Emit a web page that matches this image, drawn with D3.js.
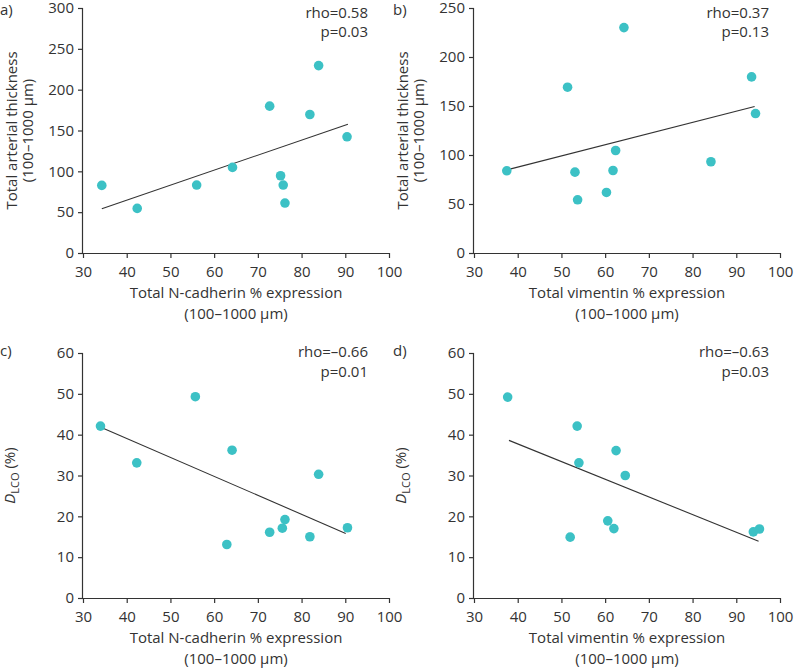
<!DOCTYPE html>
<html><head><meta charset="utf-8">
<script src="https://cdn.jsdelivr.net/npm/d3@7"></script>
<style>
body{margin:0;background:#fff;}
svg text{font-family:"Open Sans","Noto Sans",sans-serif;fill:#333;}
</style></head>
<body><svg id="c" width="799" height="671"></svg>
<script>
// Panel a: N-cadherin vs arterial thickness
const aX = [34.3, 42.4, 56.0, 64.2, 72.7, 75.2, 75.8, 76.2, 81.9, 83.9, 90.4];
const aY = [82.8, 54.6, 83.2, 104.8, 179.8, 94.6, 83.2, 61.2, 169.6, 229.5, 142.3];
const aFit = [[34.3, 54.2], [90.6, 157.7]];
// Panel b: vimentin vs arterial thickness
const bX = [37.5, 51.4, 53.1, 53.7, 60.3, 61.8, 62.4, 64.3, 84.2, 93.5, 94.4];
const bY = [83.9, 169.2, 82.5, 54.3, 61.8, 84.2, 104.6, 230, 93.1, 179.7, 142.3];
const bFit = [[38.2, 85.6], [94.2, 149.5]];
// Panel c: N-cadherin vs DLCO
const cX = [34.0, 42.3, 55.7, 64.1, 62.9, 72.7, 75.6, 76.2, 81.9, 83.9, 90.5];
const cY = [42.1, 33.1, 49.3, 36.2, 13.1, 16.1, 17.1, 19.2, 15.0, 30.3, 17.2];
const cFit = [[34.6, 41.6], [90.1, 15.8]];
// Panel d: vimentin vs DLCO
const dX = [37.7, 53.6, 54.0, 62.5, 64.6, 60.6, 62.0, 52.0, 93.9, 95.3];
const dY = [49.2, 42.1, 33.1, 36.1, 30.0, 18.9, 17.0, 14.9, 16.2, 16.9];
const dFit = [[38.0, 38.6], [95.1, 13.9]];

const xTicks = [30, 40, 50, 60, 70, 80, 90, 100];
const yTicksA = [0, 50, 100, 150, 200, 250, 300];
const yTicksB = [0, 50, 100, 150, 200, 250];
const yTicksD = [0, 10, 20, 30, 40, 50, 60];

const panels = [
  {lab:"a)", xs:aX, ys:aY, fit:aFit, ymax:300, yt:yTicksA, x0:83, x1:389, y0:253, y1:8,
   xt:["Total N-cadherin % expression","(100–1000 µm)"], yt2:["Total arterial thickness","(100–1000 µm)"],
   st:["rho=0.58","p=0.03"], sx:368, sy:17.5, lx:0, ly:15},
  {lab:"b)", xs:bX, ys:bY, fit:bFit, ymax:250, yt:yTicksB, x0:474, x1:780, y0:253, y1:8,
   xt:["Total vimentin % expression","(100–1000 µm)"], yt2:["Total arterial thickness","(100–1000 µm)"],
   st:["rho=0.37","p=0.13"], sx:769, sy:17.5, lx:393, ly:15},
  {lab:"c)", xs:cX, ys:cY, fit:cFit, ymax:60, yt:yTicksD, x0:83, x1:389, y0:598, y1:353,
   xt:["Total N-cadherin % expression","(100–1000 µm)"], yt2:null,
   st:["rho=–0.66","p=0.01"], sx:368, sy:357, lx:0, ly:356},
  {lab:"d)", xs:dX, ys:dY, fit:dFit, ymax:60, yt:yTicksD, x0:474, x1:780, y0:598, y1:353,
   xt:["Total vimentin % expression","(100–1000 µm)"], yt2:null,
   st:["rho=–0.63","p=0.03"], sx:769, sy:357, lx:393, ly:356}
];

const svg = d3.select("#c");
const col = "#3cc1c5";
const FS = 15;

panels.forEach(p => {
  const x = d3.scaleLinear().domain([30,100]).range([p.x0,p.x1]);
  const y = d3.scaleLinear().domain([0,p.ymax]).range([p.y0,p.y1]);
  const g = svg.append("g");

  const xa = g.append("g").attr("transform",`translate(0,${p.y0})`)
    .call(d3.axisBottom(x).tickValues(xTicks).tickSize(5).tickPadding(8));
  const ya = g.append("g").attr("transform",`translate(${p.x0},0)`)
    .call(d3.axisLeft(y).tickValues(p.yt).tickSize(5).tickPadding(4));
  [xa,ya].forEach(a=>{
    a.selectAll("path,line").attr("stroke","#333").attr("stroke-width",1.2);
    a.selectAll("text").attr("font-size",FS).attr("fill","#333").style("font-family","'Open Sans','Noto Sans',sans-serif");
    a.select(".domain").attr("d", a===xa ? `M${p.x0},0.5H${p.x1}` : `M-0.5,${p.y0}V${p.y1}`);
  });

  // fit line
  g.append("line")
    .attr("x1",x(p.fit[0][0])).attr("y1",y(p.fit[0][1]))
    .attr("x2",x(p.fit[1][0])).attr("y2",y(p.fit[1][1]))
    .attr("stroke","#333").attr("stroke-width",1.1);

  g.selectAll("circle").data(p.xs.map((v,i)=>[v,p.ys[i]])).join("circle")
    .attr("cx",d=>x(d[0])).attr("cy",d=>y(d[1])).attr("r",4.8).attr("fill",col);

  // x title
  const cx = (p.x0+p.x1)/2;
  g.append("text").attr("x",cx).attr("y",p.y0+45).attr("text-anchor","middle").attr("font-size",FS).text(p.xt[0]);
  g.append("text").attr("x",cx).attr("y",p.y0+66).attr("text-anchor","middle").attr("font-size",FS).text(p.xt[1]);

  // y title
  const cy = (p.y0+p.y1)/2;
  if (p.yt2) {
    g.append("text").attr("transform",`translate(${p.x0-66},${cy}) rotate(-90)`).attr("text-anchor","middle").attr("font-size",FS).text(p.yt2[0]);
    g.append("text").attr("transform",`translate(${p.x0-50},${cy}) rotate(-90)`).attr("text-anchor","middle").attr("font-size",FS).text(p.yt2[1]);
  } else {
    const t = g.append("text").attr("transform",`translate(${p.x0-68},${cy}) rotate(-90)`).attr("text-anchor","middle").attr("font-size",FS);
    t.append("tspan").attr("font-style","italic").text("D");
    t.append("tspan").attr("font-size",11).attr("dy",4).text("LCO");
    t.append("tspan").attr("dy",-4).text(" (%)");
  }

  // stats
  g.append("text").attr("x",p.sx).attr("y",p.sy).attr("text-anchor","end").attr("font-size",FS).text(p.st[0]);
  g.append("text").attr("x",p.sx).attr("y",p.sy+19.5).attr("text-anchor","end").attr("font-size",FS).text(p.st[1]);

  // panel label
  g.append("text").attr("x",p.lx).attr("y",p.ly).attr("font-size",FS).text(p.lab);
});
</script></body></html>
